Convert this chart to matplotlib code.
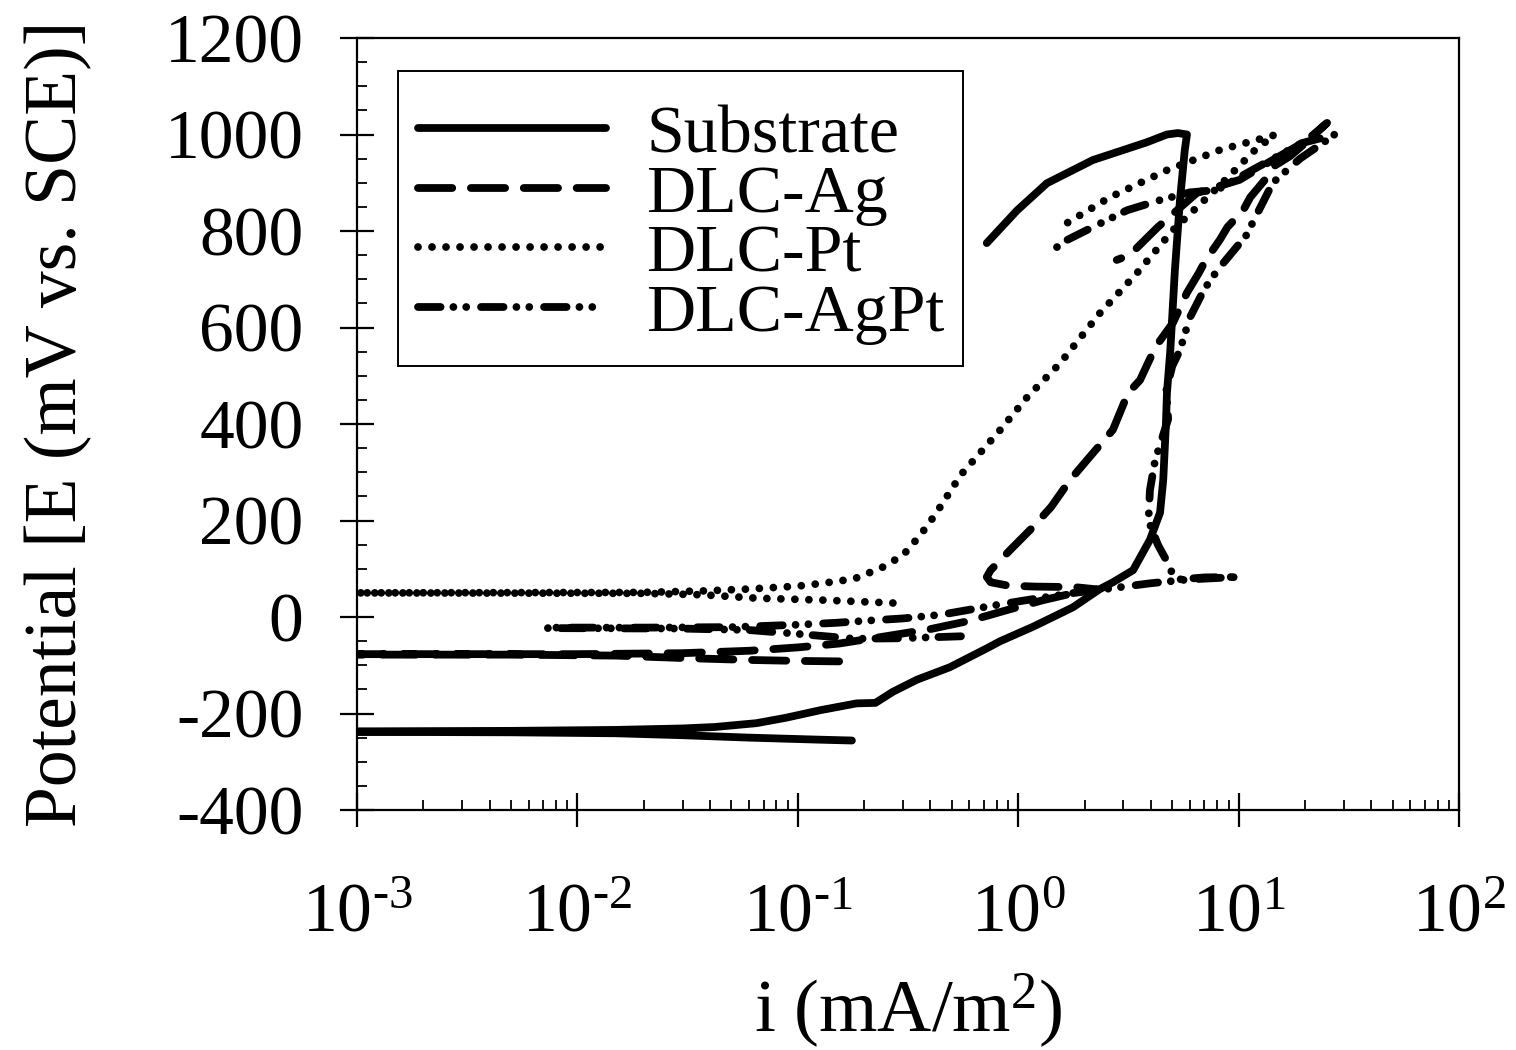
import matplotlib
matplotlib.use("Agg")
import matplotlib.pyplot as plt
from matplotlib.patches import Rectangle
from matplotlib.ticker import MultipleLocator, LogLocator, NullFormatter, FixedFormatter, FixedLocator

plt.rcParams['font.family'] = ['Liberation Serif', 'DejaVu Serif']
plt.rcParams['mathtext.fontset'] = 'custom'
plt.rcParams['mathtext.rm'] = 'Liberation Serif'
plt.rcParams['mathtext.it'] = 'Liberation Serif:italic'
plt.rcParams['mathtext.default'] = 'regular'
plt.rcParams['axes.unicode_minus'] = False

# ---------------- data (current density mA/m^2, potential mV vs SCE) -------------
sub_i = [0.176, 0.12, 0.06, 0.03, 0.015, 0.005, 0.001,
         0.001, 0.005, 0.015, 0.03, 0.042, 0.065, 0.088, 0.127, 0.185, 0.225,
         0.27, 0.347, 0.49, 0.72, 0.83, 1.17, 1.77, 2.35, 2.69, 3.32, 3.96,
         4.4, 4.55, 4.68, 4.73, 4.9, 5.14, 5.42, 5.7, 5.83,
         5.3, 4.73, 3.84, 2.18, 1.35, 0.99, 0.72]
sub_E = [-256, -254, -250, -245, -241, -239, -238,
         -237, -236, -234, -231, -228, -220, -209, -193, -179, -178,
         -155, -130, -104, -65, -50, -20, 20, 58, 72, 97, 160,
         216, 284, 400, 464, 553, 719, 864, 968, 1000,
         1003, 1000, 984, 947, 899, 843, 775]

ag_i = [0.154, 0.1, 0.06, 0.03, 0.015, 0.005, 0.001,
        0.001, 0.01, 0.03, 0.06, 0.1, 0.154, 0.25, 0.4, 0.6, 0.9, 1.3, 1.8, 2.3,
        1.8, 1.2, 0.9, 0.75, 0.72, 0.75, 0.92, 1.17, 1.41, 1.72, 2.05, 2.69,
        3.15, 3.57, 4.2, 5.04, 5.83, 6.6, 7.1, 8.2, 8.9, 10.5, 11.3, 13.5,
        14.3, 17.1, 21.0, 25.2,
        20.0, 14.0, 10.1, 6.47, 4.3, 3.2, 2.8]
ag_E = [-92, -91, -89, -85, -80, -78, -78,
        -77, -77, -75, -70, -63, -55, -40, -25, -8, 15, 35, 50, 57,
        62, 63, 65, 72, 83, 97, 139, 187, 228, 284, 325, 388,
        464, 491, 560, 610, 672, 713, 740, 781, 808, 843, 870, 912,
        933, 955, 990, 1024,
        985, 945, 906, 879, 808, 750, 740]

pt_i = [0.27, 0.13, 0.065, 0.037, 0.02, 0.001,
        0.001, 0.02, 0.037, 0.06, 0.1, 0.13, 0.18, 0.24, 0.30, 0.36, 0.42, 0.55,
        0.83, 1.1, 1.55, 2.35, 3.46, 5.04, 8.24, 12.0, 14.6,
        8.24, 4.73, 2.61, 1.55]
pt_E = [29, 35, 39, 46, 49, 50,
        50, 51, 54, 58, 64, 70, 79, 102, 128, 170, 212, 295,
        388, 456, 526, 630, 713, 802, 895, 970, 999,
        968, 926, 870, 808]

agpt_i = [0.55, 0.3, 0.18, 0.1, 0.06, 0.03, 0.0072,
          0.0072, 0.02, 0.05, 0.1, 0.15, 0.2, 0.3, 0.45, 0.6, 0.8, 1.2, 1.8,
          2.5, 4.0, 6.0, 10.0, 7.0, 5.4, 5.0, 4.8, 4.3, 3.9, 3.96, 4.18,
          4.79, 4.7, 5.0, 5.42, 6.0, 7.0, 8.05, 10.8, 14.3, 19.0, 27.4,
          19.3, 11.5, 7.98, 6.0, 4.4, 3.12, 2.18, 1.66, 1.44]
agpt_E = [-40, -44, -45, -35, -27, -24, -23,
          -22, -22, -21, -16, -12, -8, -3, 5, 15, 25, 38, 50,
          58, 70, 78, 83, 82, 78, 90, 110, 150, 200, 263, 325,
          410, 470, 520, 553, 620, 680, 720, 790, 900, 950, 1000,
          982, 926, 885, 880, 864, 843, 808, 781, 761]

labels = ['Substrate', 'DLC-Ag', 'DLC-Pt', 'DLC-AgPt']
x_ticks = [1e-3, 1e-2, 1e-1, 1e0, 1e1, 1e2]
x_tick_labels = ['10$^{\\text{-3}}$', '10$^{\\text{-2}}$', '10$^{\\text{-1}}$',
                 '10$^{0}$', '10$^{1}$', '10$^{2}$']

# ---------------- figure ----------------
fig = plt.figure(figsize=(15.16, 10.5), dpi=100)
ax = fig.add_axes([357/1516, 1 - 810/1050, (1459-357)/1516, (810-38)/1050])

lw = 5.6
ax.plot(sub_i, sub_E, color='black', lw=lw, solid_capstyle='round',
        solid_joinstyle='round', label=labels[0])
ax.plot(ag_i, ag_E, color='black', lw=lw, dashes=(4.4, 2.4),
        dash_capstyle='round', dash_joinstyle='round', label=labels[1])
ax.plot(pt_i, pt_E, color='black', lw=lw, dashes=(0.001, 1.8),
        dash_capstyle='round', label=labels[2])
ax.plot(agpt_i, agpt_E, color='black', lw=lw,
        dashes=(2.9, 1.65, 0.001, 1.65, 0.001, 1.9),
        dash_capstyle='round', dash_joinstyle='round', label=labels[3])

ax.set_xscale('log')
ax.set_xlim(1e-3, 1e2)
ax.set_ylim(-400, 1200)
ax.yaxis.set_major_locator(MultipleLocator(200))
ax.yaxis.set_minor_locator(MultipleLocator(50))
ax.xaxis.set_major_locator(FixedLocator(x_ticks))
ax.xaxis.set_major_formatter(FixedFormatter(x_tick_labels))
ax.xaxis.set_minor_locator(LogLocator(base=10, subs=range(2, 10), numticks=100))
ax.xaxis.set_minor_formatter(NullFormatter())

for s in ax.spines.values():
    s.set_linewidth(1.6)

ax.tick_params(which='major', direction='inout', length=25, width=1.6,
               labelsize=50, top=False, right=False)
ax.tick_params(axis='y', which='major', pad=26)
ax.tick_params(axis='x', which='major', pad=40)
ax.tick_params(which='minor', direction='in', length=7, width=1.3,
               top=False, right=False)

ax.set_xlabel('i (mA/m$^2$)', fontsize=54, labelpad=18)
ax.set_ylabel('Potential [E (mV vs. SCE)]', fontsize=53, labelpad=52)

# legend: frame drawn as a rectangle, entries placed inside
ax.add_patch(Rectangle((41/1102, (810-366)/772), (963-398)/1102, (366-71)/772,
                       transform=ax.transAxes, fill=True, facecolor='white',
                       edgecolor='black', lw=1.4, zorder=4))
leg = ax.legend(loc='upper left', bbox_to_anchor=(41/1102, (810-84)/772),
                borderaxespad=0, fontsize=49, frameon=False, handlelength=2.75,
                handletextpad=0.6, labelspacing=-0.03, borderpad=0.3)
leg.set_zorder(5)

fig.savefig('out.png', dpi=100)
